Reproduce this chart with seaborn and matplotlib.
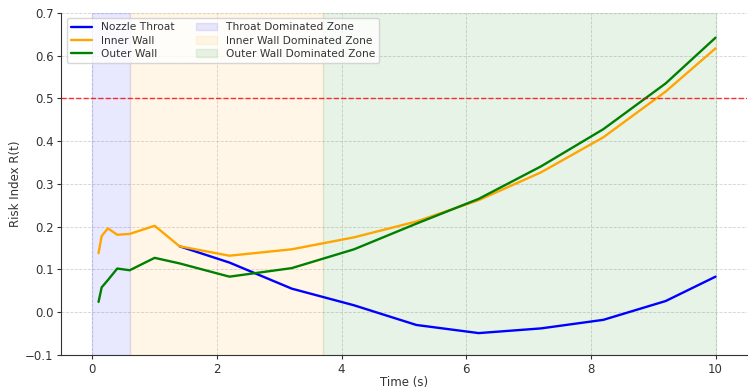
import numpy as np
import pandas as pd
import matplotlib
matplotlib.use("Agg")
import matplotlib.pyplot as plt
import seaborn as sns

time = [0.1, 0.15, 0.25, 0.4, 0.6, 1.0, 1.4, 2.2, 3.2, 4.2, 5.2, 6.2, 7.2, 8.2, 9.2, 10.0]
nozzle_throat = [np.nan, np.nan, np.nan, np.nan, np.nan, np.nan, 0.154, 0.116, 0.055, 0.016, -0.030, -0.049, -0.038, -0.018, 0.026, 0.083]
inner_wall = [0.138, 0.178, 0.196, 0.181, 0.183, 0.202, 0.154, 0.132, 0.147, 0.175, 0.212, 0.262, 0.327, 0.409, 0.516, 0.617]
outer_wall = [0.024, 0.058, 0.075, 0.102, 0.098, 0.127, 0.114, 0.083, 0.103, 0.147, 0.207, 0.265, 0.341, 0.428, 0.535, 0.642]
series_names = ["Nozzle Throat", "Inner Wall", "Outer Wall"]
series_colors = ["blue", "orange", "green"]
zones = [("Throat Dominated Zone", 0.0, 0.6, "blue"),
         ("Inner Wall Dominated Zone", 0.6, 3.7, "orange"),
         ("Outer Wall Dominated Zone", 3.7, 10.0, "green")]
threshold = 0.5

sns.set_style("ticks")
plt.rcParams['font.family'] = ['DejaVu Sans']

df = pd.DataFrame({
    "Time (s)": time * 3,
    "Risk Index R(t)": nozzle_throat + inner_wall + outer_wall,
    "Component": [series_names[0]] * len(time) + [series_names[1]] * len(time) + [series_names[2]] * len(time),
})

fig = plt.figure(figsize=(7.55, 3.9), dpi=100)
ax = fig.add_axes([0.081, 0.09, 0.908, 0.877])

sns.lineplot(data=df, x="Time (s)", y="Risk Index R(t)", hue="Component",
             palette=dict(zip(series_names, series_colors)), linewidth=1.7, ax=ax)

for name, a, b, c in zones:
    ax.axvspan(a, b, color=c, alpha=0.09, label=name)
ax.axhline(threshold, color="red", linestyle="--", linewidth=1.0, alpha=0.8)

ax.set_xlim(-0.5, 10.5)
ax.set_ylim(-0.1, 0.7)
ax.set_xticks([0, 2, 4, 6, 8, 10])
ax.grid(True, linestyle="--", color="#c8c8c8", linewidth=0.6, alpha=0.8)
sns.despine(ax=ax)
for s in ("left", "bottom"):
    ax.spines[s].set_color("#333333")
ax.tick_params(labelsize=8.5, colors="#333333", length=3, pad=2.5)
ax.set_xlabel("Time (s)", fontsize=8.5, color="#333333", labelpad=0.5)
ax.set_ylabel("Risk Index R(t)", fontsize=8.5, color="#333333", labelpad=2)

handles, labels = ax.get_legend_handles_labels()
ax.legend(handles, labels, ncol=2, loc="upper left", fontsize=7.7, framealpha=0.8,
          bbox_to_anchor=(0.0, 1.0), labelcolor="#333333", labelspacing=0.3,
          borderpad=0.4)

fig.savefig("out.png", dpi=100)
